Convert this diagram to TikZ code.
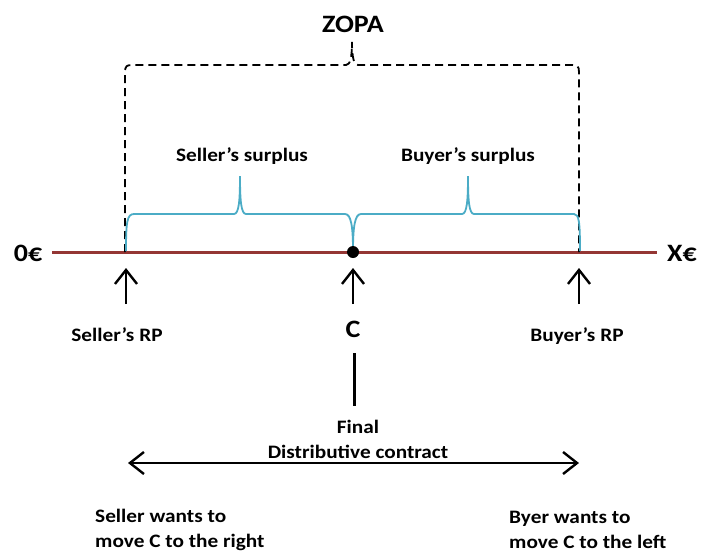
\documentclass[tikz,border=0pt]{standalone}
\usepackage{fontspec}
\setmainfont{Carlito}[FakeStretch=1.12]
\usetikzlibrary{arrows.meta}
\definecolor{axisred}{RGB}{148,54,52}
\definecolor{bracecol}{RGB}{75,172,198}
\begin{document}
\begin{tikzpicture}[x=1pt,y=-1pt,
  small/.style={font=\bfseries\fontsize{19}{25}\selectfont, inner sep=0pt},
  big/.style={font=\bfseries\fontsize{25}{28}\selectfont, inner sep=0pt},
  axis/.style={draw=axisred, line width=3pt},
  surplus/.style={draw=bracecol, line width=1.8pt},
  zopa/.style={draw=black, line width=1.8pt, dash pattern=on 8pt off 5pt},
  barb/.tip={Straight Barb[length=14pt,width=22pt,line width=2.4pt]},
  uparrow/.style={draw=black, line width=2.4pt, -barb},
  twoway/.style={draw=black, line width=2.4pt, barb-barb}]
\useasboundingbox (0,0) rectangle (701,552);

% price axis with its end labels
\node[big, anchor=base] (zero) at (28,261) {0€};
\node[big, anchor=base] (xeur) at (682,261) {X€};
\draw[axis] (52,252) coordinate (axL) -- (657,252) coordinate (axR);

% reservation points and the contract point
\coordinate (sRP) at (126,252);
\coordinate (cPt) at (353,252);
\coordinate (bRP) at (579,252);

% zone of possible agreement (dashed bracket)
\node[big, anchor=base] (zopaLbl) at (353,32) {ZOPA};
\draw[zopa] (125,252) -- (125,72) .. controls (125,66) and (127,65) .. (132,65)
  -- (346,65) .. controls (350,65) and (352,58) .. (352,42)
  .. controls (352,58) and (354,65) .. (358,65)
  -- (572,65) .. controls (577,65) and (579,66) .. (579,72) -- (bRP);

% surplus braces
\node[small, anchor=base] (sSur) at (242,161) {Seller’s surplus};
\node[small, anchor=base] (bSur) at (468,161) {Buyer’s surplus};
\draw[surplus] (126,251) .. controls (126,222) and (127,214) .. (134,214)
  -- (234,214) .. controls (239,214) and (240,200) .. (240,176)
  .. controls (240,200) and (241,214) .. (246,214)
  -- (345,214) .. controls (351,214) and (353,226) .. (353,251);
\draw[surplus] (353,251) .. controls (353,226) and (355,214) .. (361,214)
  -- (462,214) .. controls (467,214) and (468,200) .. (468,176)
  .. controls (468,200) and (469,214) .. (474,214)
  -- (574,214) .. controls (579,214) and (580,222) .. (580,251);

\fill (cPt) circle (6pt);

% pointer arrows and their labels
\coordinate (sTail) at (126,304);
\coordinate (cTail) at (353,304);
\coordinate (bTail) at (579,304);
\draw[uparrow] (sTail) -- (126,268) coordinate (sHead);
\draw[uparrow] (cTail) -- (353,268) coordinate (cHead);
\draw[uparrow] (bTail) -- (579,268) coordinate (bHead);
\node[small, anchor=base] (sRPlbl) at (117,341) {Seller’s RP};
\node[small, anchor=base] (bRPlbl) at (577,341) {Buyer’s RP};
\node[big, anchor=base] (cLbl) at (353,337) {C};

% final contract
\draw[black, line width=3pt] (354,353) coordinate (stemTop) -- (354,406) coordinate (stemBot);
\node[small, anchor=base, align=center] (final) at (358,458) {Final\\Distributive contract};
\coordinate (leftEnd) at (128,463);
\coordinate (rightEnd) at (579,463);
\draw[twoway] (leftEnd) -- (rightEnd);

% wishes of both sides
\node[small, anchor=base west, align=left] (sWish) at (95,547) {Seller wants to\\move C to the right};
\node[small, anchor=base west, align=left] (bWish) at (509,548) {Byer wants to\\move C to the left};
\end{tikzpicture}
\end{document}
